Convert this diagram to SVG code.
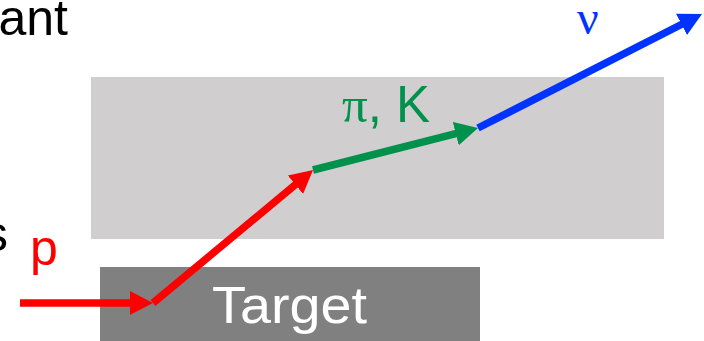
<svg xmlns="http://www.w3.org/2000/svg" width="704" height="341" viewBox="0 0 704 341">
<style>
.sans{font-family:"Liberation Sans","Noto Sans",sans-serif;}
.serif{font-family:"Liberation Serif","DejaVu Serif",serif;}
.arr{stroke-width:7.5;stroke-linecap:butt;fill:none;}
</style>
<defs>
<marker id="hr" markerUnits="userSpaceOnUse" markerWidth="23" markerHeight="24" refX="2" refY="12" orient="auto"><path d="M0,0 L23,12 L0,24 z" fill="#ff0000"/></marker>
<marker id="hg" markerUnits="userSpaceOnUse" markerWidth="23" markerHeight="24" refX="2" refY="12" orient="auto"><path d="M0,0 L23,12 L0,24 z" fill="#00914c"/></marker>
<marker id="hb" markerUnits="userSpaceOnUse" markerWidth="23" markerHeight="24" refX="2" refY="12" orient="auto"><path d="M0,0 L23,12 L0,24 z" fill="#0033ff"/></marker>
</defs>
<rect width="704" height="341" fill="#ffffff"/>
<g id="region">
<rect x="91" y="77" width="573" height="162" fill="#d0cece"/>
</g>
<g id="target">
<rect x="100" y="267" width="380" height="80" fill="#808080"/>
<text x="212" y="323" class="sans" font-size="52" fill="#ffffff" textLength="155" lengthAdjust="spacingAndGlyphs">Target</text>
</g>
<g id="labels">
<text x="68" y="35" class="sans" font-size="50" fill="#000000" text-anchor="end">ant</text>
<text x="8" y="251" class="sans" font-size="50" fill="#000000" text-anchor="end">s</text>
<text x="30" y="265" class="sans" font-size="50" fill="#ff0000">p</text>
<text x="342" y="122" font-size="51" fill="#00914c"><tspan class="serif">π</tspan><tspan class="sans">, K</tspan></text>
<text x="577" y="34" class="serif" font-size="48" fill="#0033ff">ν</text>
</g>
<g id="connectors">
<line x1="20" y1="303" x2="132" y2="303" stroke="#ff0000" class="arr" marker-end="url(#hr)"/>
<line x1="153" y1="303" x2="296.9" y2="183.4" stroke="#ff0000" class="arr" marker-end="url(#hr)"/>
<line x1="313" y1="170" x2="457.7" y2="133.2" stroke="#00914c" class="arr" marker-end="url(#hg)"/>
<line x1="478" y1="128" x2="683.3" y2="23.5" stroke="#0033ff" class="arr" marker-end="url(#hb)"/>
</g>
</svg>
